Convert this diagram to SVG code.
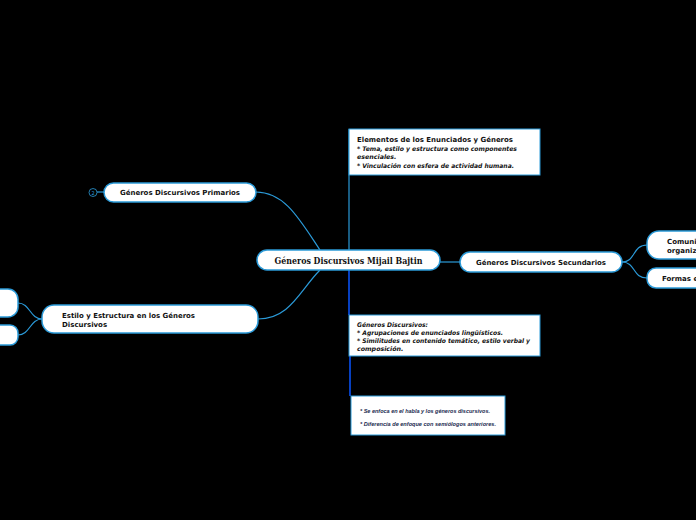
<svg xmlns="http://www.w3.org/2000/svg" width="696" height="520" viewBox="0 0 696 520">
<style>
.node{fill:#fff;stroke:#2b9ad8;stroke-width:1.5}
.box{fill:#fff;stroke:#2b9ad8;stroke-width:1}
.t{font-family:"DejaVu Sans",Verdana,sans-serif;font-weight:bold;font-size:7px;fill:#111}
.bi{font-family:"DejaVu Sans",Verdana,sans-serif;font-weight:bold;font-style:italic;font-size:6.3px;fill:#111}
.n{font-family:"Liberation Sans",sans-serif;font-weight:bold;font-style:italic;font-size:5.5px;fill:#1a2a50}
.c{fill:none;stroke:#2b9ad8;stroke-width:1.2}
</style>
<rect width="696" height="520" fill="#000"/>
<g id="connectors">
<path class="c" d="M320,250 C300,220 285,192 256,192"/>
<path class="c" d="M320,270 C300,290 290,319 258,319"/>
<path class="c" d="M440,262 L460,262"/>
<path class="c" d="M349,250 L349,129"/>
<path fill="none" stroke="#0a55ff" stroke-width="1.5" d="M349,270 L349,315 M350,356 L350,396"/>
<path class="c" d="M622,262 C636,262 632,245 647,245"/>
<path class="c" d="M622,262 C636,262 632,278 647,278"/>
<path class="c" d="M42,319 C30,319 30,303 18,303"/>
<path class="c" d="M42,319 C30,319 30,335 18,335"/>
<path class="c" d="M97,192 L104,192"/>
</g>
<g id="center">
<rect class="node" x="257" y="250" width="183" height="20" rx="10"/>
<text x="348.5" y="263.5" text-anchor="middle" font-family="DejaVu Serif,serif" font-weight="bold" font-size="8.5" fill="#111" textLength="148" lengthAdjust="spacingAndGlyphs">Géneros Discursivos Mijail Bajtin</text>
</g>
<g id="primarios">
<rect class="node" x="104" y="183" width="152" height="19" rx="9.5"/>
<text class="t" x="180" y="194.5" text-anchor="middle" textLength="120" lengthAdjust="spacingAndGlyphs">Géneros Discursivos Primarios</text>
<circle cx="93" cy="192.5" r="4" fill="none" stroke="#2b9ad8" stroke-width="0.8"/>
<text x="93" y="194.5" text-anchor="middle" font-family="DejaVu Sans,sans-serif" font-size="5" fill="#2b9ad8">2</text>
</g>
<g id="estilo">
<rect class="node" x="42" y="305" width="216" height="28" rx="12"/>
<text class="t" x="62" y="317.5" textLength="133" lengthAdjust="spacingAndGlyphs">Estilo y Estructura en los Géneros</text>
<text class="t" x="62" y="326.5">Discursivos</text>
</g>
<g id="estilo-a">
<rect class="node" x="-20" y="289" width="38" height="28" rx="10"/>
</g>
<g id="estilo-b">
<rect class="node" x="-20" y="325" width="38" height="20" rx="8"/>
</g>
<g id="secundarios">
<rect class="node" x="460" y="252" width="162" height="20" rx="10"/>
<text class="t" x="541" y="264.5" text-anchor="middle" textLength="130" lengthAdjust="spacingAndGlyphs">Géneros Discursivos Secundarios</text>
</g>
<g id="sec-a">
<rect class="node" x="647" y="231" width="70" height="28" rx="12"/>
<text class="t" x="667" y="243.5">Comuni</text>
<text class="t" x="667" y="252.5">organiz</text>
</g>
<g id="sec-b">
<rect class="node" x="647" y="268" width="70" height="20" rx="9"/>
<text class="t" x="662" y="280.5">Formas e</text>
</g>
<g id="elementos">
<rect class="box" x="349" y="129" width="191" height="46"/>
<text class="t" x="357" y="141.5" textLength="156" lengthAdjust="spacingAndGlyphs">Elementos de los Enunciados y Géneros</text>
<text class="bi" x="357" y="150.5" textLength="160" lengthAdjust="spacingAndGlyphs">* Tema, estilo y estructura como componentes</text>
<text class="bi" x="357" y="158.5">esenciales.</text>
<text class="bi" x="357" y="167.5" textLength="157" lengthAdjust="spacingAndGlyphs">* Vinculación con esfera de actividad humana.</text>
</g>
<g id="definicion">
<rect class="box" x="349" y="315" width="191" height="41"/>
<text class="bi" x="357" y="326.5" textLength="71" lengthAdjust="spacingAndGlyphs">Géneros Discursivos:</text>
<text class="bi" x="357" y="334.5" textLength="146" lengthAdjust="spacingAndGlyphs">* Agrupaciones de enunciados lingüísticos.</text>
<text class="bi" x="357" y="342.5" textLength="173" lengthAdjust="spacingAndGlyphs">* Similitudes en contenido temático, estilo verbal y</text>
<text class="bi" x="357" y="350.5">composición.</text>
</g>
<g id="enfoque">
<rect class="box" x="351" y="396" width="154" height="39"/>
<text class="n" x="360" y="412.5" textLength="130" lengthAdjust="spacingAndGlyphs">* Se enfoca en el habla y los géneros discursivos.</text>
<text class="n" x="360" y="425.5" textLength="136" lengthAdjust="spacingAndGlyphs">* Diferencia de enfoque con semiólogos anteriores.</text>
</g>
</svg>
